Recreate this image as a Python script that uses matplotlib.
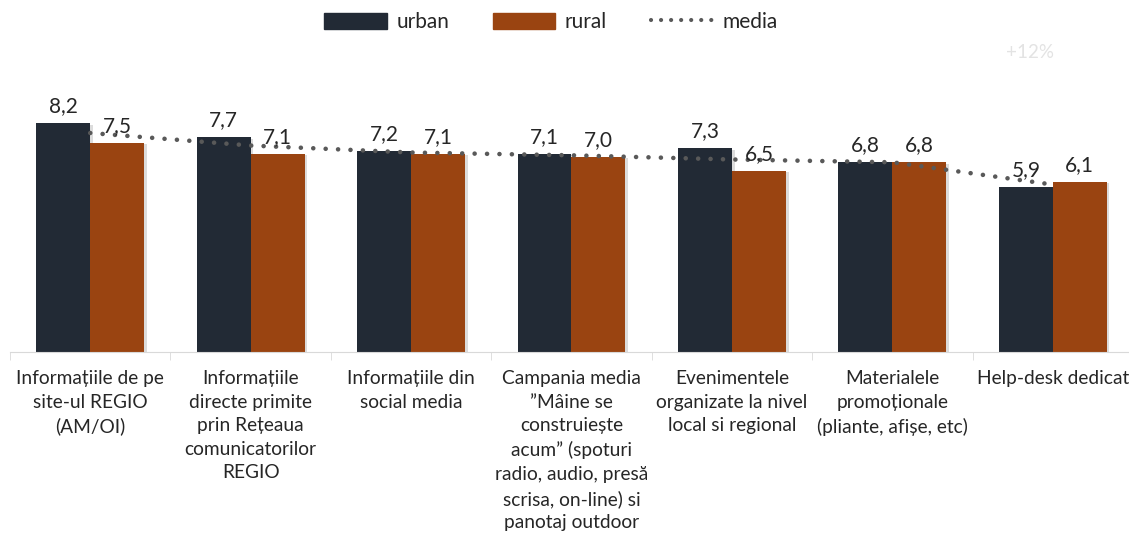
import numpy as np
import matplotlib.pyplot as plt
import matplotlib.patheffects as pe
from matplotlib.patches import Patch
from matplotlib.lines import Line2D

plt.rcParams['font.family'] = ['Lato', 'DejaVu Sans']

categories = [
    "Informațiile de pe\nsite-ul REGIO\n(AM/OI)",
    "Informațiile\ndirecte primite\nprin Rețeaua\ncomunicatorilor\nREGIO",
    "Informațiile din\nsocial media",
    "Campania media\n”Mâine se\nconstruiește\nacum” (spoturi\nradio, audio, presă\nscrisa, on-line) si\npanotaj outdoor",
    "Evenimentele\norganizate la nivel\nlocal si regional",
    "Materialele\npromoționale\n(pliante, afișe, etc)",
    "Help-desk dedicat",
]
urban = [8.2, 7.7, 7.2, 7.1, 7.3, 6.8, 5.9]
rural = [7.5, 7.1, 7.1, 7.0, 6.5, 6.8, 6.1]
media = [(u + r) / 2 for u, r in zip(urban, rural)]

c_urban = "#222A35"
c_rural = "#9A4411"
c_media = "#595959"
c_text = "#262626"
dots = (0, (0.01, 2.7))

x = np.arange(len(categories))
w = 0.336

fig = plt.figure(figsize=(11.29, 5.43), dpi=100)
ax = fig.add_axes([10 / 1129, (543 - 352) / 543, 1123 / 1129, 322 / 543])

shadow = [pe.SimplePatchShadow(offset=(2, -1), shadow_rgbFace="#8c8c8c", alpha=0.3), pe.Normal()]
b1 = ax.bar(x - w / 2, urban, w, color=c_urban, path_effects=shadow, zorder=2)
b2 = ax.bar(x + w / 2, rural, w, color=c_rural, path_effects=shadow, zorder=2)
ax.plot(x, media, color=c_media, linestyle=dots, linewidth=3.3,
        dash_capstyle="round", zorder=3)

for bars, vals in ((b1, urban), (b2, rural)):
    for b, v in zip(bars, vals):
        ax.annotate(f"{v:.1f}".replace(".", ","), (b.get_x() + b.get_width() / 2, v),
                    xytext=(0, 5), textcoords="offset points", ha="center", va="bottom",
                    fontsize=15, color=c_text, zorder=4)

ax.set_xlim(-0.5, len(categories) - 0.5)
ax.set_ylim(0, 322 / 27.9)
ax.set_yticks([])
for s in ("top", "right", "left"):
    ax.spines[s].set_visible(False)
ax.spines["bottom"].set_color("#D9D9D9")

ax.set_xticks(x)
ax.set_xticklabels(categories, fontsize=13.8, color=c_text, linespacing=1.47, va="top")
ax.tick_params(axis="x", which="major", length=0, pad=13)
ax.set_xticks(np.arange(-0.5, len(categories)), minor=True)
ax.tick_params(axis="x", which="minor", length=6, color="#D9D9D9")

fig.text(1030 / 1129, 1 - 52 / 543, "+12%", fontsize=13.5, color="#E3E3E3", ha="center", va="center")

handles = [Patch(color=c_urban), Patch(color=c_rural),
           Line2D([], [], color=c_media, linestyle=(0, (0.01, 2.4)), linewidth=3.0, dash_capstyle="round")]
fig.legend(handles, ["urban", "rural", "media"], loc="center", bbox_to_anchor=(551 / 1129, 1 - 22 / 543),
           ncol=3, frameon=False, fontsize=15, handlelength=3.0, handleheight=0.8,
           columnspacing=2.1, handletextpad=0.45, labelcolor=c_text)

fig.savefig("out.png", dpi=100)
